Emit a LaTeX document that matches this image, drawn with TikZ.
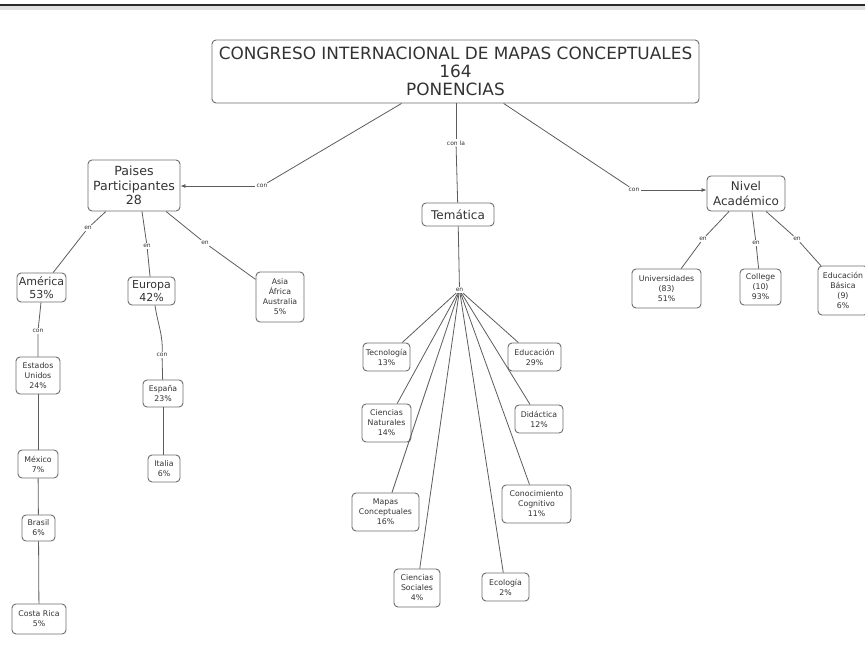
\documentclass[tikz,border=0pt]{standalone}
\usepackage{fontspec}
\setmainfont{DejaVu Sans}
\usetikzlibrary{arrows.meta}

\definecolor{boxgray}{HTML}{6E6E6E}
\definecolor{linegray}{HTML}{5C5C5C}
\definecolor{txt}{HTML}{333333}
\definecolor{rule}{HTML}{2A2A2A}

\newcommand\ftTitle{\fontsize{16.9}{18}\selectfont}
\newcommand\ftBig{\fontsize{12.6}{14.5}\selectfont}
\newcommand\ftMid{\fontsize{11}{13}\selectfont}
\newcommand\ftSmall{\fontsize{7.8}{10}\selectfont}
\newcommand\ftLink{\fontsize{6}{7}\selectfont}

\tikzset{
  concept/.style={draw=boxgray, line width=0.9pt, rounded corners=4pt, fill=white,
    text=txt, align=center, inner sep=1pt},
  bigc/.style={concept, font=\ftBig},
  midc/.style={concept, font=\ftMid},
  smallc/.style={concept, font=\ftSmall},
  linklbl/.style={font=\ftLink, text=txt, inner sep=1.2pt, fill=white},
  conn/.style={draw=linegray, line width=0.8pt},
  arr/.style={conn, -{Latex[length=5pt,width=4pt]}},
}

\begin{document}
\begin{tikzpicture}[x=1pt,y=-1pt]
\useasboundingbox (0,0) rectangle (865,661);

% header rule
\fill[black!12] (0,6) rectangle (865,10);
\draw[rule, line width=2pt] (0,5) -- (865,5);

% main concept
\node[concept, font=\ftTitle, minimum width=487pt, minimum height=63pt] (title) at (455.5,71.5)
  {CONGRESO INTERNACIONAL DE MAPAS CONCEPTUALES\\164\\PONENCIAS};

% second level
\node[bigc, minimum width=92pt, minimum height=51pt] (paises) at (134,185.5)
  {Paises\\Participantes\\28};
\node[bigc, font=\fontsize{12}{14}\selectfont, minimum width=72pt, minimum height=23pt] (tematica) at (458,214.5) {Temática};
\node[bigc, font=\fontsize{12}{15}\selectfont, minimum width=78pt, minimum height=35pt] (nivel) at (746,193.5)
  {Nivel\\Académico};

% linking phrases from the main concept
\node[linklbl] (con1) at (262,186) {con};
\node[linklbl] (conla) at (456,143) {con la};
\node[linklbl] (con2) at (634,190) {con};

\draw[conn] (title) -- (con1);
\draw[arr] (con1) -- (paises.east |- con1);
\draw[conn] (title.south -| conla) -- (conla);
\draw[conn] (conla) -- (tematica);
\draw[conn] (title) -- (con2);
\draw[arr] (con2) -- (nivel.west |- con2);

% countries
\node[midc, minimum width=49pt, minimum height=29pt] (america) at (41.5,287.5) {América\\53\%};
\node[midc, minimum width=47pt, minimum height=28pt] (europa) at (151.5,291) {Europa\\42\%};
\node[smallc, minimum width=48pt, minimum height=50pt] (asia) at (280,297) {Asia\\África\\Australia\\5\%};

\node[linklbl] (en1) at (88,228) {en};
\node[linklbl] (en2) at (147,246) {en};
\node[linklbl] (en3) at (205,243) {en};
\draw[conn] (paises) -- (en1) -- (america);
\draw[conn] (paises.south -| 142,0) -- (en2) -- (europa);
\draw[conn] (paises) -- (en3) -- (asia);

\node[smallc, minimum width=44pt, minimum height=37pt] (eeuu) at (38,375.5) {Estados\\Unidos\\24\%};
\node[smallc, minimum width=40pt, minimum height=28pt] (mexico) at (38,464) {México\\7\%};
\node[smallc, minimum width=33pt, minimum height=26pt] (brasil) at (38.5,528) {Brasil\\6\%};
\node[smallc, minimum width=54pt, minimum height=30pt] (costarica) at (39,619) {Costa Rica\\5\%};
\node[linklbl] (con3) at (38,331) {con};
\draw[conn] (america.south -| 41,0) -- (con3) -- (eeuu);
\draw[conn] (eeuu) -- (mexico);
\draw[conn] (mexico) -- (brasil);
\draw[conn] (brasil) -- (costarica);

\node[smallc, minimum width=40pt, minimum height=27pt] (espana) at (163,393.5) {España\\23\%};
\node[smallc, minimum width=32pt, minimum height=27pt] (italia) at (164,468.5) {Italia\\6\%};
\node[linklbl] (con4) at (162,355) {con};
\draw[conn] (europa.south -| 155,0) .. controls (158,325) and (163,335) .. (con4);
\draw[conn] (con4) -- (espana);
\draw[conn] (espana) -- (italia.north -| espana);

% topics
\node[linklbl] (en4) at (459.5,290) {en};
\draw[conn] (tematica) -- (en4);

\node[smallc, minimum width=47pt, minimum height=28pt] (tecno) at (386.5,357) {Tecnología\\13\%};
\node[smallc, minimum width=53pt, minimum height=28pt] (educ) at (534.5,357) {Educación\\29\%};
\node[smallc, minimum width=49pt, minimum height=38pt] (cnat) at (386.5,423) {Ciencias\\Naturales\\14\%};
\node[smallc, minimum width=48pt, minimum height=28pt] (didac) at (539,419) {Didáctica\\12\%};
\node[smallc, minimum width=67pt, minimum height=38pt] (mapas) at (385.5,512) {Mapas\\Conceptuales\\16\%};
\node[smallc, minimum width=69pt, minimum height=38pt] (conoc) at (536.5,504) {Conocimiento\\Cognitivo\\11\%};
\node[smallc, minimum width=46pt, minimum height=38pt] (csoc) at (417,588) {Ciencias\\Sociales\\4\%};
\node[smallc, minimum width=47pt, minimum height=28pt] (ecol) at (505.5,587) {Ecología\\2\%};

\foreach \t in {tecno,educ,cnat,didac,mapas,conoc,csoc,ecol}
  \draw[conn] (en4) -- (\t);

% academic level
\node[smallc, minimum width=69pt, minimum height=39pt] (univ) at (666.5,288.5) {Universidades\\(83)\\51\%};
\node[smallc, minimum width=41pt, minimum height=36pt] (college) at (760.5,287) {College\\(10)\\93\%};
\node[smallc, minimum width=50pt, minimum height=49pt] (basica) at (843,290.5) {Educación\\Básica\\(9)\\6\%};

\node[linklbl] (en5) at (703,239) {en};
\node[linklbl] (en6) at (756,243) {en};
\node[linklbl] (en7) at (797,239) {en};
\draw[conn] (nivel) -- (en5) -- (univ);
\draw[conn] (nivel.south -| 752,0) -- (en6) -- (college);
\draw[conn] (nivel) -- (en7) -- (basica);
\end{tikzpicture}
\end{document}
